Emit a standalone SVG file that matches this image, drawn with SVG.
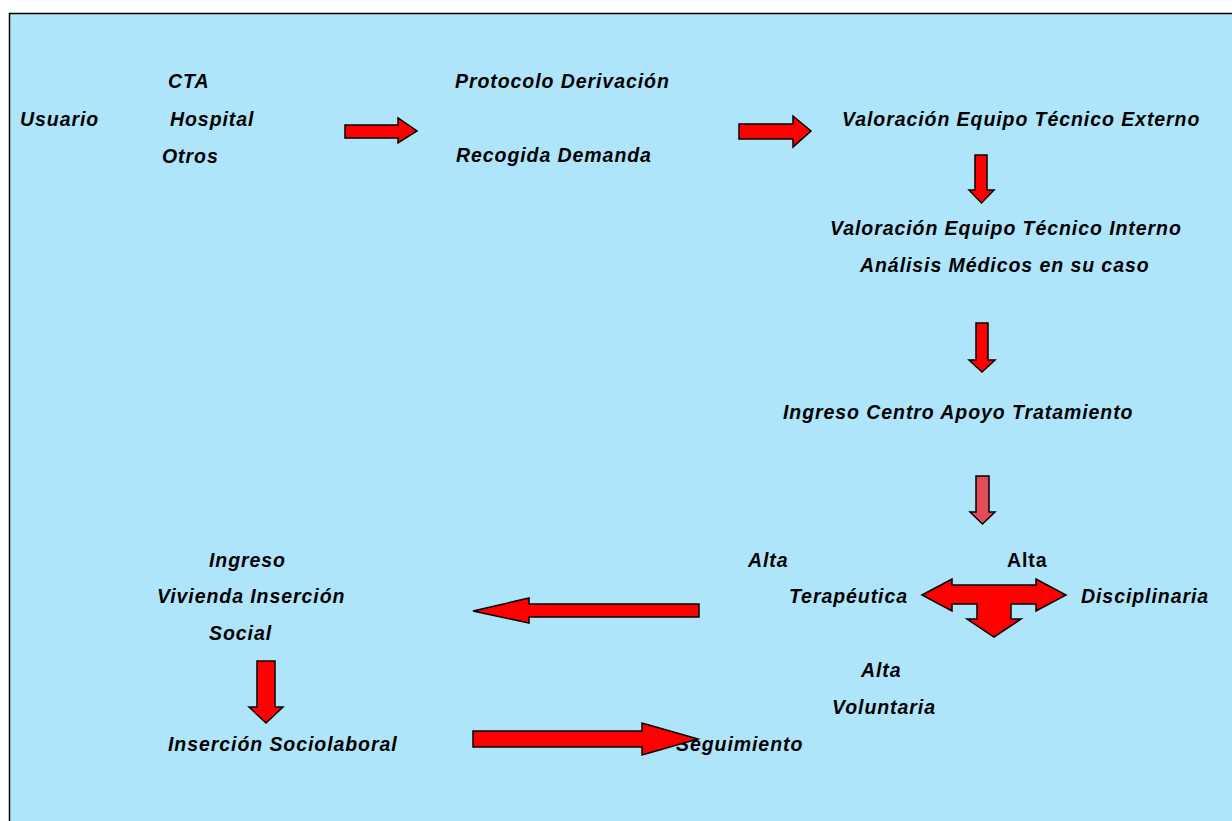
<svg xmlns="http://www.w3.org/2000/svg" width="1232" height="821" viewBox="0 0 1232 821">
<style>
.t{font-family:"Liberation Sans",Arial,sans-serif;font-size:19.5px;letter-spacing:0.93px;font-weight:bold;font-style:italic;fill:#000}
.u{font-style:normal}
.a{fill:#FF0000;stroke:#000;stroke-width:1.5;stroke-linejoin:miter}
.p{fill:#E34B57}
</style>
<rect x="0" y="0" width="1232" height="821" fill="#FFFFFF"/>
<rect x="9.5" y="13.5" width="1240" height="830" fill="#AFE5FA" stroke="#000" stroke-width="1.5"/>
<g id="nodes">
<g id="n-cta"><text class="t" x="168" y="88">CTA</text></g>
<g id="n-usuario"><text class="t" x="20" y="126">Usuario</text></g>
<g id="n-hospital"><text class="t" x="170" y="126">Hospital</text></g>
<g id="n-otros"><text class="t" x="162" y="163">Otros</text></g>
<g id="n-protocolo"><text class="t" x="455" y="88">Protocolo Derivación</text></g>
<g id="n-recogida"><text class="t" x="456" y="162">Recogida Demanda</text></g>
<g id="n-externo"><text class="t" x="842" y="126">Valoración Equipo Técnico Externo</text></g>
<g id="n-interno"><text class="t" x="830" y="235">Valoración Equipo Técnico Interno</text><text class="t" x="860" y="272">Análisis Médicos en su caso</text></g>
<g id="n-ingreso-cat"><text class="t" x="783" y="419">Ingreso Centro Apoyo Tratamiento</text></g>
<g id="n-terapeutica"><text class="t" x="748" y="567">Alta</text><text class="t" x="789" y="603">Terapéutica</text></g>
<g id="n-disciplinaria"><text class="t u" x="1007" y="567">Alta</text><text class="t" x="1081" y="603">Disciplinaria</text></g>
<g id="n-voluntaria"><text class="t" x="861" y="677">Alta</text><text class="t" x="832" y="714">Voluntaria</text></g>
<g id="n-vivienda"><text class="t" x="209" y="567">Ingreso</text><text class="t" x="157" y="603">Vivienda Inserción</text><text class="t" x="209" y="640">Social</text></g>
<g id="n-sociolaboral"><text class="t" x="168" y="751">Inserción Sociolaboral</text></g>
<g id="n-seguimiento"><text class="t" x="676" y="751">Seguimiento</text></g>
</g>
<g id="connectors">
<polygon class="a" points="345,125 398,125 398,118 417,131 398,143 398,138 345,138"/>
<polygon class="a" points="739,124 793,124 793,116 811,131 793,147 793,139 739,139"/>
<polygon class="a" points="975,155 987,155 987,190 994,190 981.5,203 969,190 975,190"/>
<polygon class="a" points="976,323 988,323 988,360 995,360 982,372 969,360 976,360"/>
<polygon class="a p" points="976,476 989,476 989,512 995,512 982.5,524 970,512 976,512"/>
<polygon class="a" points="922,595 952,579 952,585 1036,585 1036,579 1066,595 1036,611 1036,604 1011,604 1011,619 1021,619 994,637 967,619 977,619 977,604 952,604 952,611"/>
<polygon class="a" points="699,604 699,617 529,617 529,623 473,611 529,598 529,604"/>
<polygon class="a" points="257,661 275,661 275,707 283,707 266,723 249,707 257,707"/>
<polygon class="a" points="473,731 642,731 642,723 698,739 642,755 642,747 473,747"/>
</g>
</svg>
